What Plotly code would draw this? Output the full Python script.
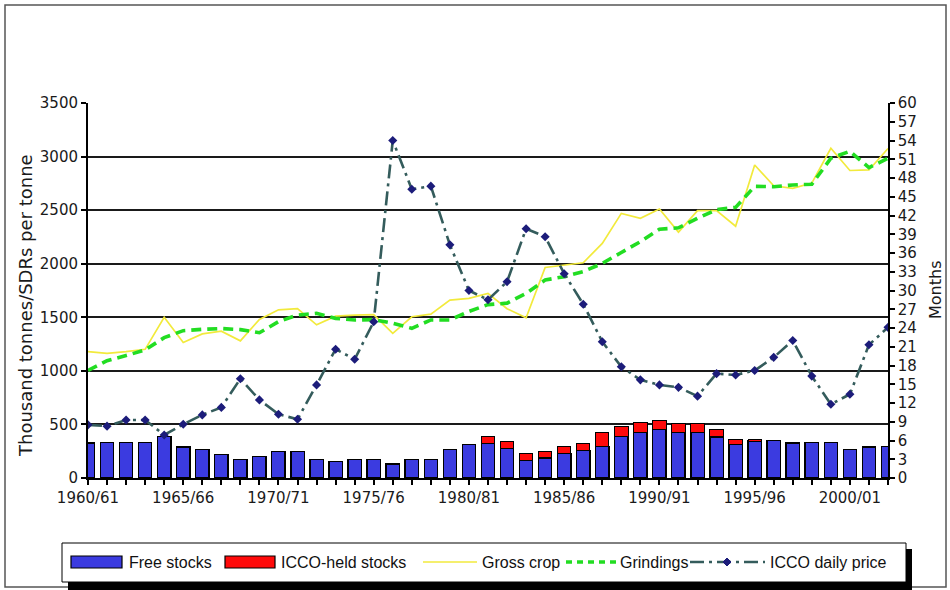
import plotly.graph_objects as go

# Cocoa market balance by crop year
seasons = [
    "1960/61", "1961/62", "1962/63", "1963/64", "1964/65", "1965/66", "1966/67",
    "1967/68", "1968/69", "1969/70", "1970/71", "1971/72", "1972/73", "1973/74",
    "1974/75", "1975/76", "1976/77", "1977/78", "1978/79", "1979/80", "1980/81",
    "1981/82", "1982/83", "1983/84", "1984/85", "1985/86", "1986/87", "1987/88",
    "1988/89", "1989/90", "1990/91", "1991/92", "1992/93", "1993/94", "1994/95",
    "1995/96", "1996/97", "1997/98", "1998/99", "1999/00", "2000/01", "2001/02",
    "2002/03",
]

# thousand tonnes
free_stocks = [328, 330, 330, 330, 386, 290, 265, 222, 175, 199, 245, 245, 175, 155,
               174, 174, 131, 174, 174, 268, 314, 320, 277, 168, 188, 230, 255, 297,
               386, 429, 451, 429, 429, 383, 313, 345, 352, 327, 332, 330, 264, 289, 292]
icco_stocks = [0, 0, 0, 0, 0, 0, 0, 0, 0, 0, 0, 0, 0, 0, 0, 0, 0, 0, 0, 0, 0,
               69, 62, 62, 64, 62, 69, 129, 96, 89, 82, 84, 84, 68, 48, 15,
               0, 0, 0, 0, 0, 0, 0]
gross_crop = [1179, 1164, 1179, 1201, 1500, 1265, 1345, 1370, 1280, 1480, 1570, 1580,
              1430, 1510, 1520, 1525, 1350, 1505, 1530, 1660, 1677, 1723, 1580, 1495,
              1965, 1988, 2009, 2190, 2470, 2424, 2510, 2295, 2495, 2495, 2350, 2921,
              2727, 2704, 2753, 3077, 2870, 2875, 3075]
grindings = [1004, 1095, 1143, 1195, 1310, 1375, 1388, 1395, 1385, 1356, 1459, 1521,
             1537, 1490, 1475, 1478, 1444, 1397, 1475, 1475, 1555, 1618, 1632, 1723,
             1848, 1879, 1926, 2003, 2105, 2206, 2322, 2335, 2424, 2505, 2526, 2722,
             2719, 2735, 2742, 2984, 3050, 2897, 2984]
# SDRs per tonne
icco_price = [496, 484, 542, 542, 402, 502, 589, 659, 927, 729, 595, 548, 869, 1202,
              1108, 1458, 3150, 2695, 2724, 2176, 1750, 1663, 1832, 2327, 2252, 1907,
              1622, 1272, 1038, 916, 869, 846, 764, 974, 962, 1003, 1126, 1283, 951,
              688, 782, 1243, 1406]

left_ticks = [0, 500, 1000, 1500, 2000, 2500, 3000, 3500]
month_ticks = list(range(0, 61, 3))
label_every = 5
tick_text = [s if i % label_every == 0 else "" for i, s in enumerate(seasons)]

BLUE = "#3b3be0"
RED = "#ff0a0a"
YELLOW = "#f2ea3c"
GREEN = "#22dd22"
SLATE = "#345c5c"
NAVY = "#1c1c7a"
FONT = "DejaVu Sans"
TXT = "#1a1a1a"

W, H = 950, 590
ML, MR, MT, MB = 88, 62, 103, 112
PW, PH = W - ML - MR, H - MT - MB


def px_x(x):
    return (x - ML) / PW


def px_y(y):
    return (H - MB - y) / PH


fig = go.Figure()

fig.add_trace(go.Bar(
    x=seasons, y=free_stocks, name="Free stocks",
    marker=dict(color=BLUE, line=dict(color="black", width=1.3)),
))
fig.add_trace(go.Bar(
    x=seasons, y=icco_stocks, name="ICCO-held stocks",
    marker=dict(color=RED, line=dict(color="black", width=1.0)),
))
fig.add_trace(go.Scatter(
    x=seasons, y=gross_crop, name="Gross crop", mode="lines",
    line=dict(color=YELLOW, width=1.7),
))
fig.add_trace(go.Scatter(
    x=seasons, y=grindings, name="Grindings", mode="lines",
    line=dict(color=GREEN, width=3.6, dash="10px,6px"),
))
fig.add_trace(go.Scatter(
    x=seasons, y=icco_price, name="ICCO daily price", mode="lines+markers",
    line=dict(color=SLATE, width=2.6, dash="14px,5px,3px,5px"),
    marker=dict(symbol="diamond", size=7, color=NAVY),
))
# secondary (months) scale carries no series of its own
fig.add_trace(go.Scatter(x=[], y=[], yaxis="y2", showlegend=False, hoverinfo="skip"))

fig.update_layout(
    width=W, height=H, autosize=False,
    margin=dict(l=ML, r=MR, t=MT, b=MB, pad=0),
    paper_bgcolor="white", plot_bgcolor="white",
    barmode="stack", bargap=0.3,
    showlegend=False,
    font=dict(family=FONT, size=15, color=TXT),
    xaxis=dict(
        type="category", range=[0, len(seasons) - 1],
        tickmode="array", tickvals=seasons, ticktext=tick_text,
        ticks="outside", ticklen=5, tickwidth=1.5, tickcolor="black",
        showline=True, linecolor="black", linewidth=2,
        showgrid=False, tickangle=0,
        tickfont=dict(family=FONT, size=15, color=TXT),
    ),
    yaxis=dict(
        range=[0, 3500], tickvals=left_ticks,
        ticks="outside", ticklen=5, tickwidth=1.5, tickcolor="black",
        showline=True, linecolor="black", linewidth=2,
        showgrid=True, gridcolor="#1a1a1a", gridwidth=1.8,
        zeroline=False,
        tickfont=dict(family=FONT, size=15, color=TXT),
    ),
    yaxis2=dict(
        range=[0, 60], tickmode="array", tickvals=month_ticks,
        overlaying="y", side="right", anchor="x",
        ticks="outside", ticklen=5, tickwidth=1.5, tickcolor="black",
        showline=True, linecolor="black", linewidth=1.6,
        showgrid=False, zeroline=False,
        tickfont=dict(family=FONT, size=15, color=TXT),
    ),
)

shapes = []
annotations = []

# outer frame of the chart
shapes.append(dict(type="rect", xref="paper", yref="paper",
                   x0=px_x(5), x1=px_x(946), y0=px_y(587), y1=px_y(5),
                   line=dict(color="#555555", width=1.5), layer="below"))

# axis titles
annotations.append(dict(text="Thousand tonnes/SDRs per tonne", xref="paper", yref="paper",
                        x=px_x(25), y=px_y(306), textangle=-90, showarrow=False,
                        font=dict(family=FONT, size=18, color=TXT),
                        xanchor="center", yanchor="middle"))
annotations.append(dict(text="Months", xref="paper", yref="paper",
                        x=px_x(935), y=px_y(290), textangle=-90, showarrow=False,
                        font=dict(family=FONT, size=16, color=TXT),
                        xanchor="center", yanchor="middle"))

# legend box with drop shadow
shapes.append(dict(type="rect", xref="paper", yref="paper",
                   x0=px_x(68), x1=px_x(912), y0=px_y(594), y1=px_y(549),
                   fillcolor="black", line=dict(width=0)))
shapes.append(dict(type="rect", xref="paper", yref="paper",
                   x0=px_x(62), x1=px_x(906), y0=px_y(582), y1=px_y(543),
                   fillcolor="white", line=dict(color="black", width=1)))

ly = 562
LEG_FONT = dict(family="Liberation Sans", size=16, color="#111111")

# Free stocks / ICCO-held stocks swatches
for x0, x1, col, label, tx in [(71, 122, BLUE, "Free stocks", 127),
                               (225, 275, RED, "ICCO-held stocks", 279)]:
    shapes.append(dict(type="rect", xref="paper", yref="paper",
                       x0=px_x(x0), x1=px_x(x1), y0=px_y(ly + 6), y1=px_y(ly - 6),
                       fillcolor=col, line=dict(color="black", width=1.2)))
    annotations.append(dict(text=label, xref="paper", yref="paper", x=px_x(tx), y=px_y(ly),
                            xanchor="left", yanchor="middle", showarrow=False, font=LEG_FONT))

# Gross crop
shapes.append(dict(type="line", xref="paper", yref="paper",
                   x0=px_x(423), x1=px_x(477), y0=px_y(ly), y1=px_y(ly),
                   line=dict(color=YELLOW, width=1.7)))
annotations.append(dict(text="Gross crop", xref="paper", yref="paper", x=px_x(480), y=px_y(ly),
                        xanchor="left", yanchor="middle", showarrow=False, font=LEG_FONT))

# Grindings
shapes.append(dict(type="line", xref="paper", yref="paper",
                   x0=px_x(566), x1=px_x(616), y0=px_y(ly), y1=px_y(ly),
                   line=dict(color=GREEN, width=3.6, dash="6px,5px")))
annotations.append(dict(text="Grindings", xref="paper", yref="paper", x=px_x(618), y=px_y(ly),
                        xanchor="left", yanchor="middle", showarrow=False, font=LEG_FONT))

# ICCO daily price
shapes.append(dict(type="line", xref="paper", yref="paper",
                   x0=px_x(690), x1=px_x(765), y0=px_y(ly), y1=px_y(ly),
                   line=dict(color=SLATE, width=2.6, dash="14px,5px,3px,5px")))
shapes.append(dict(type="path", xref="paper", yref="paper",
                   path="M {a},{b} L {c},{d} L {a},{e} L {f},{d} Z".format(
                       a=px_x(727), b=px_y(ly - 4), c=px_x(731), d=px_y(ly),
                       e=px_y(ly + 4), f=px_x(723)),
                   fillcolor=NAVY, line=dict(color=NAVY, width=1)))
annotations.append(dict(text="ICCO daily price", xref="paper", yref="paper", x=px_x(768), y=px_y(ly),
                        xanchor="left", yanchor="middle", showarrow=False, font=LEG_FONT))

fig.update_layout(shapes=shapes, annotations=annotations)

fig.write_html("out.html")
